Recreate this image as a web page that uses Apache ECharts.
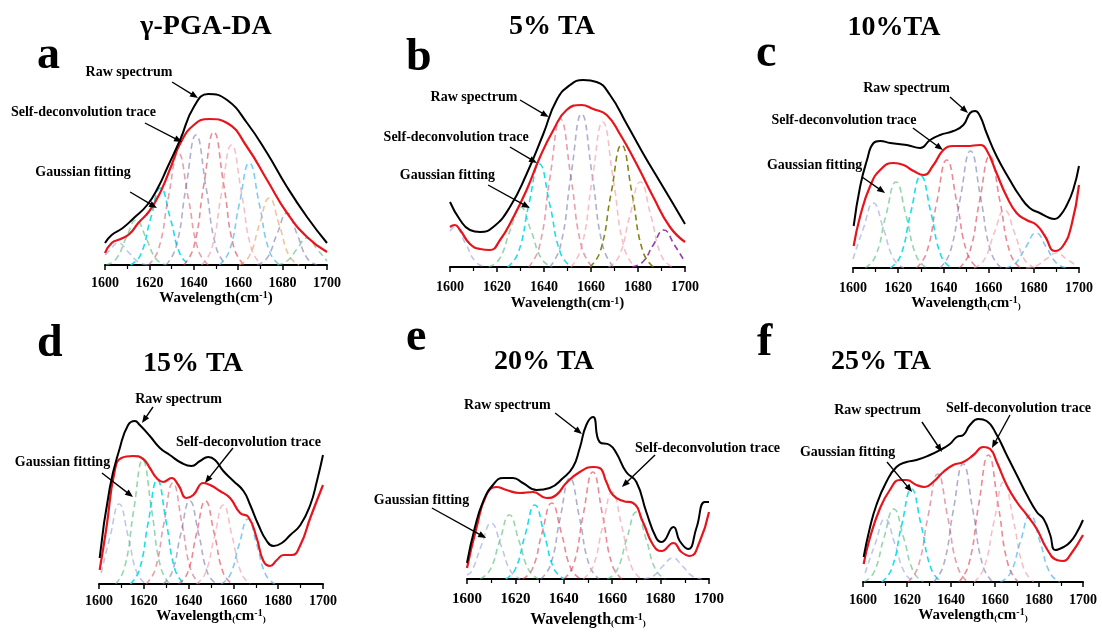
<!doctype html>
<html>
<head>
<meta charset="utf-8">
<title>FTIR deconvolution</title>
<style>
	body { margin: 0; background: #fff; }
	#main { width: 1102px; height: 633px; }
</style>
<script src="https://cdn.jsdelivr.net/npm/echarts@6/dist/echarts.min.js"></script>
</head>
<body>
<div id="main"></div>
<script>
// 坐标刻度
var xTicks = [1600, 1620, 1640, 1660, 1680, 1700];
var panelLetters = ['a', 'b', 'c', 'd', 'e', 'f'];
var panelTitles = ['γ-PGA-DA', '5% TA', '10%TA', '15% TA', '20% TA', '25% TA'];
var noteLabels = ['Raw spectrum', 'Self-deconvolution trace', 'Gaussian fitting'];

// 原始光谱 (波数, 相对强度)
var rawA = [[1600,22],[1603,30],[1608,37],[1613,47],[1619,60],[1624,78],[1628,97],[1634,126],[1640,158],[1646.5,171],[1655,165],[1664,142],[1673,112],[1682,78],[1691,48],[1700,22]];
var rawB = [[1600,65],[1604.3,47],[1608.5,37],[1612.8,35],[1618.4,40],[1625.5,60],[1632.6,93],[1639.7,133],[1645.4,167],[1651.1,182],[1656.7,187],[1662.4,185],[1668.1,172],[1675.2,143],[1682.3,113],[1689.4,85],[1695,63],[1700,43]];
var rawC = [[1600.3,42],[1603.2,82],[1606.2,108],[1609.1,125],[1612,127],[1616.5,125],[1623.8,123],[1629.7,120],[1634.1,128],[1638.5,133],[1644.4,137],[1648.8,143],[1651.8,155],[1654,157],[1656.2,152],[1659.1,135],[1663.5,112],[1669.4,88],[1673.8,72],[1678.2,60],[1682.6,55],[1687,50],[1689.3,49],[1691.5,52],[1694.4,62],[1697.4,78],[1700,102]];
var rawD = [[1600.3,26],[1604.8,96],[1609.3,136],[1613,159],[1616,163],[1618.2,159],[1622.7,148],[1627.2,136],[1631.6,129],[1636.9,121],[1641.3,118],[1645.1,123],[1648.8,127],[1651.8,124],[1655.5,113],[1660,103],[1664.5,93],[1667.5,79],[1671.2,59],[1674.9,43],[1677.9,38],[1681.6,41],[1685.4,49],[1689.9,59],[1694.3,79],[1697.3,103],[1700,129]];
var rawE = [[1600,16],[1603.2,51],[1606.6,77],[1610.7,94],[1614.9,101],[1619,101],[1623.1,96],[1628.7,89],[1634.2,91],[1639.7,101],[1643.8,112],[1646.6,131],[1649.3,154],[1652.1,162],[1654.8,137],[1659,134],[1661.7,126],[1665.8,107],[1670,97],[1674.1,67],[1678.2,41],[1680.4,37],[1685.3,52],[1687.9,38],[1691.4,30],[1694.8,51],[1698.2,77],[1700,77]];
var rawF = [[1600.3,25],[1603,53],[1606.1,77],[1610.6,100],[1615.2,115],[1619.8,120],[1624.3,122],[1630.4,127],[1635,132],[1639.5,138],[1642.6,145],[1645.6,147],[1648.6,157],[1652.4,163],[1656.2,161],[1660.8,147],[1665.3,127],[1669.9,107],[1674.5,87],[1679,70],[1682.1,63],[1685.1,47],[1687.4,32],[1691.2,35],[1694.2,40],[1697.3,50],[1700,62]];

// 去卷积曲线
var traceA = [[1600,12],[1603,22],[1607,26],[1611,31],[1615,42],[1620,54],[1625,73],[1630,100],[1634,122],[1640,140],[1647,146],[1655,142],[1664,118],[1673,85],[1682,52],[1691,28],[1700,13]];
var traceB = [[1600,40],[1602,42],[1604.3,37],[1608.5,23],[1612.8,18],[1617,17],[1621.3,27],[1627,50],[1632.6,77],[1638.3,110],[1644,137],[1649.6,157],[1656,162],[1661,158],[1666.7,152],[1672.3,133],[1679.4,103],[1686.5,70],[1693.6,40],[1700,25]];
var traceC = [[1600.3,22],[1603.2,52],[1607.6,82],[1612,98],[1617.9,105],[1622.4,103],[1626.8,97],[1631.2,93],[1635.6,103],[1640,118],[1644.4,122],[1650.3,122],[1656.2,123],[1659.1,118],[1663.5,95],[1667.9,72],[1672.4,55],[1676.8,48],[1681.2,43],[1684.9,32],[1689.3,17],[1692.9,22],[1696.6,42],[1700,83]];
var traceD = [[1600.3,14],[1603.3,56],[1607,113],[1610,126],[1615.2,128],[1619.7,125],[1622.7,116],[1625.7,106],[1628.7,102],[1632.4,106],[1635.4,99],[1639.1,86],[1642.1,89],[1646.6,101],[1649.6,99],[1654,93],[1658.5,86],[1663,71],[1666.7,67],[1670.4,46],[1673.4,23],[1676.4,18],[1679.4,24],[1682.4,29],[1686.1,29],[1689.9,39],[1694.3,66],[1700,99]];
var traceE = [[1600,11],[1603.9,51],[1608,84],[1612.1,92],[1616.3,89],[1621.8,86],[1627.3,87],[1632.8,81],[1636.9,84],[1641,96],[1646.6,107],[1652.1,112],[1654.8,111],[1657.6,97],[1660.3,84],[1664.5,78],[1668.6,76],[1672.7,57],[1676.9,34],[1680.4,28],[1685.3,36],[1688.6,27],[1692.1,23],[1696.1,37],[1700,67]];
var traceF = [[1600.3,18],[1603,43],[1607.6,73],[1612.2,92],[1616.7,102],[1619.8,102],[1624.3,97],[1628.1,95],[1631.9,100],[1636.5,110],[1641,117],[1645.6,120],[1650.2,127],[1654.7,135],[1657.8,133],[1660.8,120],[1665.3,97],[1669.9,80],[1674.5,67],[1679,53],[1683.6,33],[1688.1,22],[1691.2,21],[1694.2,27],[1700,47]];

// 高斯拟合峰
var gaussA = [
	[[1597,3],[1601.5,13],[1606,22],[1610.5,13],[1615,3],[1619.5,0]],
	[[1600.5,0],[1605,6],[1609.5,27],[1614,45],[1618.5,27],[1623,6],[1627.5,0]],
	[[1611.5,0],[1616,10],[1620.5,46],[1625,77],[1629.5,46],[1634,10],[1638.5,0]],
	[[1619.5,0],[1624,15],[1628.5,67],[1633,112],[1637.5,67],[1642,15],[1646.5,0]],
	[[1627.5,0],[1632,18],[1636.5,78],[1641,130],[1645.5,78],[1650,18],[1654.5,0]],
	[[1635.5,0],[1640,18],[1644.5,80],[1649,133],[1653.5,80],[1658,18],[1662.5,0]],
	[[1643.5,0],[1648,16],[1652.5,72],[1657,120],[1661.5,72],[1666,16],[1670.5,0]],
	[[1651.5,0],[1656,14],[1660.5,61],[1665,102],[1669.5,61],[1674,14],[1678.5,0]],
	[[1660.5,0],[1665,9],[1669.5,40],[1674,67],[1678.5,40],[1683,9],[1687.5,0]],
	[[1668.5,0],[1673,7],[1677.5,31],[1682,52],[1686.5,31],[1691,7],[1695.5,0]],
	[[1677.5,0],[1682,4],[1686.5,16],[1691,27],[1695.5,16],[1700,4]]
];
var gaussB = [
	[[1600,36],[1602,40],[1606.5,24],[1611,5],[1615.5,0]],
	[[1616.5,0],[1621,8],[1625.5,36],[1630,60],[1634.5,36],[1639,8],[1643.5,0]],
	[[1624.5,0],[1629,14],[1633.5,62],[1638,103],[1642.5,62],[1647,14],[1651.5,0]],
	[[1633.5,0],[1638,20],[1642.5,89],[1647,148],[1651.5,89],[1656,20],[1660.5,0]],
	[[1642.5,0],[1647,21],[1651.5,92],[1656,153],[1660.5,92],[1665,21],[1669.5,0]],
	[[1651.5,0],[1656,20],[1660.5,87],[1665,145],[1669.5,87],[1674,20],[1678.5,0]],
	[[1659.5,0],[1664,16],[1668.5,73],[1673,122],[1677.5,73],[1682,16],[1686.5,0]],
	[[1667.5,0],[1672,11],[1676.5,51],[1681,85],[1685.5,51],[1690,11],[1694.5,0]],
	[[1677.5,0],[1682,5],[1686.5,22],[1691,37],[1695.5,22],[1700,5]]
];
var gaussC = [
	[[1600,9],[1604.5,39],[1609,65],[1613.5,39],[1618,9],[1622.5,0]],
	[[1605.5,0],[1610,12],[1614.5,52],[1619,86],[1623.5,52],[1628,12],[1632.5,0]],
	[[1616.5,0],[1621,12],[1625.5,55],[1630,92],[1634.5,55],[1639,12],[1643.5,0]],
	[[1628,0],[1632.5,15],[1637,65],[1641.5,108],[1646,65],[1650.5,15],[1655,0]],
	[[1638.5,0],[1643,16],[1647.5,70],[1652,117],[1656.5,70],[1661,16],[1665.5,0]],
	[[1647,0],[1651.5,15],[1656,67],[1660.5,112],[1665,67],[1669.5,15],[1674,0]],
	[[1653.5,0],[1658,8],[1662.5,35],[1667,58],[1671.5,35],[1676,8],[1680.5,0]],
	[[1667.5,0],[1672,5],[1676.5,21],[1681,35],[1685.5,21],[1690,5],[1694.5,0]],
	[[1676.5,0],[1681,2],[1685.5,9],[1690,15],[1694.5,9],[1699,2]]
];
var gaussD = [
	[[1601,11],[1605,48],[1609,80],[1613,48],[1617,11],[1621,0]],
	[[1607.5,0],[1611.5,17],[1615.5,74],[1619.5,124],[1623.5,74],[1627.5,17],[1631.5,0]],
	[[1614,0],[1618,14],[1622,62],[1626,104],[1630,62],[1634,14],[1638,0]],
	[[1621,0],[1625,14],[1629,61],[1633,101],[1637,61],[1641,14],[1645,0]],
	[[1628.5,0],[1632.5,11],[1636.5,50],[1640.5,83],[1644.5,50],[1648.5,11],[1652.5,0]],
	[[1635.5,0],[1639.5,11],[1643.5,50],[1647.5,83],[1651.5,50],[1655.5,11],[1659.5,0]],
	[[1643.5,0],[1647.5,11],[1651.5,47],[1655.5,79],[1659.5,47],[1663.5,11],[1667.5,0]],
	[[1654.5,0],[1658.5,9],[1662.5,39],[1666.5,65],[1670.5,39],[1674.5,9],[1678.5,0]]
];
var gaussE = [
	[[1600,4],[1602,8],[1606,34],[1610,56],[1614,34],[1618,8],[1622,0]],
	[[1605.5,0],[1609.5,9],[1613.5,38],[1617.5,64],[1621.5,38],[1625.5,9],[1629.5,0]],
	[[1616,0],[1620,10],[1624,44],[1628,74],[1632,44],[1636,10],[1640,0]],
	[[1623,0],[1627,10],[1631,46],[1635,76],[1639,46],[1643,10],[1647,0]],
	[[1630.5,0],[1634.5,14],[1638.5,61],[1642.5,101],[1646.5,61],[1650.5,14],[1654.5,0]],
	[[1640,0],[1644,14],[1648,64],[1652,107],[1656,64],[1660,14],[1664,0]],
	[[1648,0],[1652,12],[1656,52],[1660,87],[1664,52],[1668,12],[1672,0]],
	[[1658,0],[1662,9],[1666,40],[1670,67],[1674,40],[1678,9],[1682,0]],
	[[1673,0],[1677,3],[1681,13],[1685,21],[1689,13],[1693,3],[1697,0]]
];
var gaussF = [
	[[1601,9],[1605.5,38],[1610,63],[1614.5,38],[1619,9],[1623.5,0]],
	[[1600.5,0],[1605,10],[1609.5,44],[1614,73],[1618.5,44],[1623,10],[1627.5,0]],
	[[1608.5,0],[1613,13],[1617.5,56],[1622,93],[1626.5,56],[1631,13],[1635.5,0]],
	[[1620.5,0],[1625,15],[1629.5,65],[1634,108],[1638.5,65],[1643,15],[1647.5,0]],
	[[1632,0],[1636.5,16],[1641,71],[1645.5,118],[1650,71],[1654.5,16],[1659,0]],
	[[1643.5,0],[1648,17],[1652.5,76],[1657,127],[1661.5,76],[1666,17],[1670.5,0]],
	[[1650.5,0],[1655,14],[1659.5,60],[1664,100],[1668.5,60],[1673,14],[1677.5,0]],
	[[1662.5,0],[1667,9],[1671.5,40],[1676,67],[1680.5,40],[1685,9],[1689.5,0]]
];

// 注释位置 (数据坐标): [文字中心, 箭头起点, 箭头终点], 顺序同 noteLabels
var notesA = [[[1610.8,193],[1630.2,183],[1641.9,167]], [[1590.3,153],[1618,142],[1634.7,123]], [[1590.1,93],[1611.3,73],[1623.4,57]]];
var notesB = [[[1610.2,170],[1629.8,167],[1642,150]], [[1602.6,130],[1625.5,120],[1637,104]], [[1598.9,92],[1616.2,82],[1634,59]]];
var notesC = [[[1623.7,180],[1642.9,171],[1650.9,155]], [[1596,148],[1626.5,140],[1639.8,118]], [[1583,103],[1604,91],[1614.2,75]]];
var notesD = [[[1635.5,185],[1624.1,177],[1619.2,161]], [[1666.7,142],[1659.8,136],[1647.3,101]], [[1583.7,122],[1601.3,111],[1615.2,87]]];
var notesE = [[[1616.7,174],[1636.4,166],[1647.5,145]], [[1699.4,131],[1677.7,124],[1664,92]], [[1581.2,79],[1585.5,71],[1607.9,41]]];
var notesF = [[[1606.6,172],[1626.8,160],[1635.9,130]], [[1670.7,174],[1666.8,167],[1658.6,134]], [[1593,130],[1610.9,120],[1622.3,90]]];

// 颜色
var COL = {
	LB: 'rgba(150,160,215,0.6)', GR: 'rgba(80,185,120,0.6)', CY: 'rgba(0,220,235,0.9)',
	PR: 'rgba(215,95,115,0.6)', BP: 'rgba(110,110,170,0.55)', RD: 'rgba(220,60,80,0.6)',
	PK: 'rgba(240,150,165,0.6)', SB: 'rgba(60,175,235,0.65)', OR: 'rgba(240,160,100,0.65)',
	OL: 'rgba(120,120,0,0.9)', PU: 'rgba(130,30,150,0.85)'
};
var gcolA = ['LB','GR','CY','PR','BP','RD','PK','SB','OR','BP','GR'];
var gcolB = ['LB','GR','CY','PR','BP','PK','OL','PK','PU'];
var gcolC = ['LB','GR','CY','RD','BP','RD','PK','SB','PK'];
var gcolD = ['LB','GR','CY','PR','BP','RD','PK','SB'];
var gcolE = ['LB','GR','CY','RD','BP','RD','PK','GR','LB'];
var gcolF = ['LB','GR','CY','PR','BP','RD','PK','SB'];

var raws = [rawA, rawB, rawC, rawD, rawE, rawF];
var traces = [traceA, traceB, traceC, traceD, traceE, traceF];
var gauss = [gaussA, gaussB, gaussC, gaussD, gaussE, gaussF];
var gcols = [gcolA, gcolB, gcolC, gcolD, gcolE, gcolF];
var notes = [notesA, notesB, notesC, notesD, notesE, notesF];

// 版面
var boxes = [
	{left: 105, top: 65, width: 222, height: 200},
	{left: 450, top: 67, width: 235, height: 200},
	{left: 853, top: 68, width: 226, height: 200},
	{left: 99, top: 384, width: 224, height: 200},
	{left: 467, top: 379, width: 242, height: 200},
	{left: 863, top: 382, width: 220, height: 200}
];
var labelMargin = [11, 13, 13, 10, 13, 11];
var labelSize = [14, 14, 14, 14, 15, 14];
var nameGap = [24, 29, 26, 23, 33, 22];
var letterPos = [[37,56], [406,58], [756,54], [37,344], [406,338], [757,343]];
var titlePos = [[206,26.5], [552,26.5], [894,27.5], [193,363.5], [544,361.5], [881,361.5]];

var SERIF = '"Liberation Serif", "Times New Roman", serif';
var myChart = echarts.init(document.getElementById('main'));

var grids = [], xAxes = [], yAxes = [], series = [];
for (var i = 0; i < 6; i++) {
	grids.push(boxes[i]);
	var nm = i < 2 ? 'Wavelength(cm{sup|-1})' : 'Wavelength{sm|(}cm{sup|-1}{sm|)}';
	xAxes.push({
		type: 'value', gridIndex: i, min: xTicks[0], max: xTicks[xTicks.length - 1], interval: 20,
		axisLine: {show: true, onZero: false, lineStyle: {color: '#000', width: 2}},
		axisTick: {show: true, length: 5, lineStyle: {color: '#000', width: 1.5}},
		minorTick: {show: true, splitNumber: 2, length: 4, lineStyle: {color: '#000', width: 1.2}},
		splitLine: {show: false},
		axisLabel: {color: '#000', fontFamily: SERIF, fontWeight: 'bold', fontSize: labelSize[i], margin: labelMargin[i],
			formatter: function (v) { return String(v); }},
		name: nm, nameLocation: 'middle', nameGap: nameGap[i],
		nameTextStyle: {
			color: '#000', fontFamily: SERIF, fontWeight: 'bold', fontSize: i == 4 ? 16 : 15,
			rich: {
				sup: {fontFamily: SERIF, fontWeight: 'bold', fontSize: 10, verticalAlign: 'top', color: '#000'},
				sm: {fontFamily: SERIF, fontWeight: 'bold', fontSize: 9, verticalAlign: 'bottom', color: '#000'}
			}
		}
	});
	yAxes.push({type: 'value', gridIndex: i, min: 0, max: 200, show: false});

	for (var g = 0; g < gauss[i].length; g++) {
		series.push({
			type: 'line', xAxisIndex: i, yAxisIndex: i, data: gauss[i][g], smooth: 0.5,
			symbol: 'none', silent: true, z: 1,
			lineStyle: {color: COL[gcols[i][g]], width: 1.6, type: [6, 4]}
		});
	}
	series.push({
		type: 'line', xAxisIndex: i, yAxisIndex: i, data: traces[i], smooth: 0.5,
		symbol: 'none', silent: true, z: 3, lineStyle: {color: '#e8141c', width: 2.2}
	});
	series.push({
		type: 'line', xAxisIndex: i, yAxisIndex: i, data: raws[i], smooth: 0.5,
		symbol: 'none', silent: true, z: 4, lineStyle: {color: '#000', width: 2}
	});
}

myChart.setOption({
	backgroundColor: '#fff',
	animation: false,
	grid: grids, xAxis: xAxes, yAxis: yAxes, series: series
});

// 箭头
function arrow(p0, p1) {
	var dx = p1[0] - p0[0], dy = p1[1] - p0[1];
	var L = Math.sqrt(dx * dx + dy * dy), ux = dx / L, uy = dy / L;
	var hl = 8, hw = 3.2;
	var bx = p1[0] - ux * hl, by = p1[1] - uy * hl;
	return [
		{type: 'line', z: 10, shape: {x1: p0[0], y1: p0[1], x2: bx + ux * 2, y2: by + uy * 2}, style: {stroke: '#000', lineWidth: 1.4}},
		{type: 'polygon', z: 10, shape: {points: [[p1[0], p1[1]], [bx - uy * hw, by + ux * hw], [bx + uy * hw, by - ux * hw]]}, style: {fill: '#000'}}
	];
}

var graphic = [];
for (var i = 0; i < 6; i++) {
	graphic.push({type: 'text', z: 10, style: {text: panelLetters[i], x: letterPos[i][0], y: letterPos[i][1],
		font: 'bold 46px ' + SERIF, fill: '#000', align: 'left', verticalAlign: 'middle'}});
	graphic.push({type: 'text', z: 10, style: {text: panelTitles[i], x: titlePos[i][0], y: titlePos[i][1],
		font: 'bold 28px ' + SERIF, fill: '#000', align: 'center', verticalAlign: 'middle'}});
	for (var k = 0; k < 3; k++) {
		var n = notes[i][k];
		var pt = myChart.convertToPixel({gridIndex: i}, n[0]);
		var p0 = myChart.convertToPixel({gridIndex: i}, n[1]);
		var p1 = myChart.convertToPixel({gridIndex: i}, n[2]);
		graphic.push({type: 'text', z: 10, style: {text: noteLabels[k], x: pt[0], y: pt[1],
			font: 'bold 14px ' + SERIF, fill: '#000', align: 'center', verticalAlign: 'middle'}});
		graphic = graphic.concat(arrow(p0, p1));
	}
}
myChart.setOption({graphic: graphic});
</script>
</body>
</html>
